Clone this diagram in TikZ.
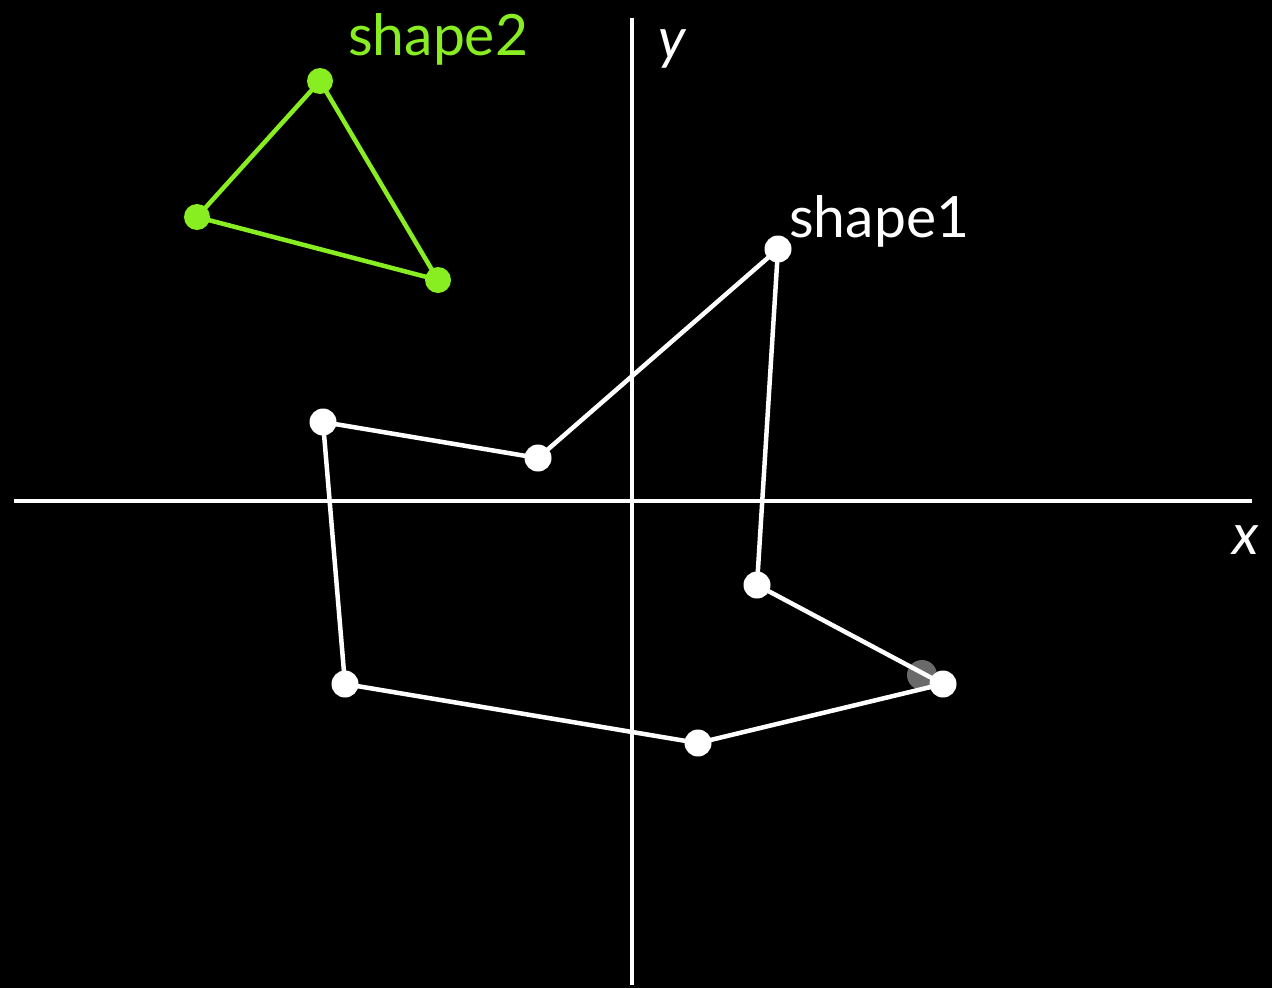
\documentclass[tikz,border=0pt]{standalone}
\usepackage{fontspec}
\setmainfont{Lato}
\definecolor{lime}{HTML}{88EE22}
\definecolor{ghost}{HTML}{6A6A6A}
\begin{document}
\begin{tikzpicture}[x=1pt,y=-1pt,
  axis/.style={draw=white,line width=3.8pt},
  edge/.style={draw=white,line width=4.5pt},
  gedge/.style={draw=lime,line width=4.5pt},
  wdot/.style={circle,fill=white,inner sep=0pt,minimum size=27pt},
  gdot/.style={circle,fill=lime,inner sep=0pt,minimum size=26pt},
  lbl/.style={inner sep=0pt,font=\fontsize{57}{68}\selectfont}]
\fill[black] (0,0) rectangle (1272,988);
\useasboundingbox (0,0) rectangle (1272,988);
% axes
\coordinate (xl) at (14,501);
\coordinate (xr) at (1252,501);
\coordinate (yt) at (632,18);
\coordinate (yb) at (632,985);
\draw[axis] (xl) -- (xr);
\draw[axis] (yt) -- (yb);
\node[lbl,text=white,anchor=base west] (ylab) at (658,58) {\itshape y};
\node[lbl,text=white,anchor=base west] (xlab) at (1232,554) {\itshape x};
% ghost dot
\node[circle,fill=ghost,inner sep=0pt,minimum size=30pt] (gh) at (922,675) {};
% shape1
\coordinate (a1) at (778,249);
\coordinate (a2) at (757,585);
\coordinate (a3) at (943,684);
\coordinate (a4) at (698,743);
\coordinate (a5) at (345,684);
\coordinate (a6) at (323,422);
\coordinate (a7) at (538,458);
\draw[edge,line join=round] (a1) -- (a2) -- (a3) -- (a4) -- (a5) -- (a6) -- (a7) -- cycle;
\foreach \p in {a1,a2,a3,a4,a5,a6,a7} \node[wdot] at (\p) {};
\node[lbl,text=white,anchor=base west] (s1) at (789,237) {shape1};
% shape2
\coordinate (b1) at (320,81);
\coordinate (b2) at (438,280);
\coordinate (b3) at (197,217);
\draw[gedge,line join=round] (b1) -- (b2) -- (b3) -- cycle;
\foreach \p in {b1,b2,b3} \node[gdot] at (\p) {};
\node[lbl,text=lime,anchor=base west] (s2) at (348,55) {shape2};
\end{tikzpicture}
\end{document}
